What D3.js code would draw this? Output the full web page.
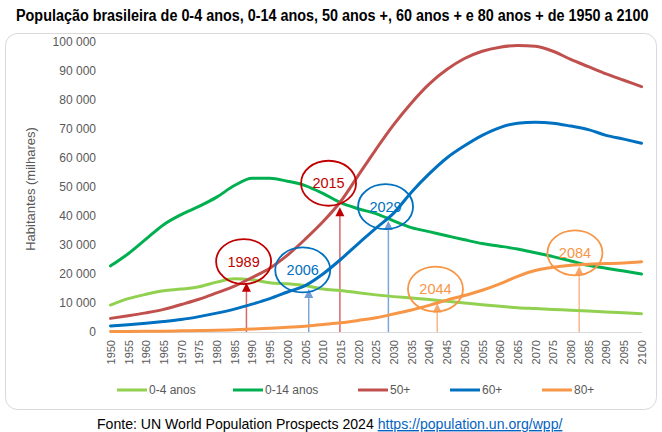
<!DOCTYPE html>
<html><head><meta charset="utf-8">
<script src="https://cdn.jsdelivr.net/npm/d3@7"></script>
<style>
html,body{margin:0;padding:0;background:#fff;}
svg{display:block;font-family:"Liberation Sans",Arial,sans-serif;}
</style></head>
<body>
<svg id="chart" width="662" height="432"></svg>
<script>
const years = [1950,1955,1960,1965,1970,1975,1980,1985,1990,1995,2000,2005,2010,2015,2020,2025,2030,2035,2040,2045,2050,2055,2060,2065,2070,2075,2080,2085,2090,2095,2100];
const age0_4  = [9300,11500,13000,14200,14800,15600,17200,18400,18000,17000,16600,16000,14800,14300,13500,12800,12200,11700,11200,10600,10000,9400,8900,8400,8100,7800,7500,7200,6900,6600,6300];
const age0_14 = [22800,27000,32000,37000,40500,43300,46500,50500,53000,53000,52000,50500,47800,44600,42500,40800,38300,36000,34600,33200,31800,30500,29600,28600,27300,26000,24500,23000,22000,21000,20000];
const age50p  = [4700,5600,6600,7800,9500,11300,13500,15800,18800,22000,26500,32000,38000,45000,54000,63000,71500,79000,85500,90500,94300,96800,98200,98800,98500,96800,94000,91500,89000,86800,84600];
const age60p  = [2100,2500,3000,3600,4300,5300,6500,7900,9600,11500,13800,16000,20000,25000,30500,35800,41000,48200,54500,60000,64200,67800,70500,72000,72300,72000,71000,69800,67800,66500,65100];
const age80p  = [150,200,250,300,400,500,600,800,1000,1300,1600,2000,2600,3200,4000,4900,6200,7600,9200,11000,12600,14400,16600,19200,21200,22300,23000,23400,23600,23800,24200];
const seriesNames = ["0-4 anos","0-14 anos","50+","60+","80+"];
const yTicks = [0,10000,20000,30000,40000,50000,60000,70000,80000,90000,100000];
// annotations: label year, ellipse centre (year, value), arrow x (year), arrow tip value
const annYears   = [1989, 2006, 2015, 2029, 2044, 2084];
const annCx      = [1987.6, 2004.3, 2011.6, 2027.7, 2041.8, 2081.2];
const annCy      = [24300, 21400, 51300, 43200, 14800, 27300];
const annArrowX  = [1988.4, 2006.0, 2014.8, 2028.5, 2042.3, 2082.4];
const annArrowTo = [17000, 14800, 43000, 38300, 9800, 22700];
const annGroup   = ["r","b","r","b","o","o"];

const colors = ["#92d050","#00b050","#c0504d","#0070c0","#f79646"];
const annStroke = {r:"#c00000", b:"#0070c0", o:"#f79646"};
const annArrow = {r:"#d9666a", b:"#7fa6d8", o:"#f8b68a"};
const annHead = {r:"#c00000", b:"#6f9bd6", o:"#f5a66d"};

const svg = d3.select("#chart");
const x = d3.scaleLinear().domain([1950,2100]).range([110.5,641.5]);
const y = d3.scaleLinear().domain([0,100000]).range([332,42]);

// frame
svg.append("rect").attr("x",5.5).attr("y",33.5).attr("width",651).attr("height",376)
  .attr("rx",12).attr("fill","#fff").attr("stroke","#d9d9d9").attr("stroke-width",1);

// title (scaled horizontally to the reference width)
const title = svg.append("text").attr("x",0).attr("y",0).attr("font-size",17).attr("font-weight","bold")
  .attr("fill","#000")
  .text("População brasileira de 0-4 anos, 0-14 anos, 50 anos +, 60 anos + e 80 anos + de 1950 a 2100");
const tLen = title.node().getComputedTextLength();
title.attr("transform",`translate(16,21) scale(${633/tLen},1)`);

// y axis
const fmt = d => d3.format(",")(d).replace(/,/g," ");
const ya = svg.append("g").attr("transform","translate(100,0)")
  .call(d3.axisLeft(y).tickValues(yTicks).tickFormat(fmt).tickSize(0).tickPadding(4));
ya.select(".domain").remove();
ya.selectAll("text").attr("font-size",12).attr("fill","#595959").attr("font-family","Liberation Sans, Arial, sans-serif");

svg.append("text").attr("transform","translate(35,189) rotate(-90)").attr("text-anchor","middle")
  .attr("font-size",13).attr("fill","#595959").text("Habitantes (milhares)");

// x axis
const xa = svg.append("g").attr("transform","translate(0,332)")
  .call(d3.axisBottom(x).tickValues(years).tickFormat(d3.format("d")).tickSize(0).tickSizeOuter(0));
xa.select(".domain").attr("stroke","#d9d9d9");
xa.selectAll("text").attr("transform","rotate(-90)").attr("text-anchor","end")
  .attr("x",-8).attr("y",0).attr("dy","0.35em")
  .attr("font-size",11).attr("fill","#595959").attr("font-family","Liberation Sans, Arial, sans-serif");

// arrows (drawn under lines)
annYears.forEach((yr,i)=>{
  const g = annGroup[i];
  const ax = x(annArrowX[i]), ty = y(annArrowTo[i]);
  svg.append("line").attr("x1",ax).attr("x2",ax).attr("y1",332).attr("y2",ty+7)
    .attr("stroke",annArrow[g]).attr("stroke-width",1.5);
  svg.append("path").attr("d",`M${ax},${ty} L${ax-4.5},${ty+9} L${ax+4.5},${ty+9} Z`)
    .attr("fill",annHead[g]);
});

// lines
const allSeries = [age0_4, age0_14, age50p, age60p, age80p];
const line = d3.line().x((d,i)=>x(years[i])).y(d=>y(d)).curve(d3.curveMonotoneX);
allSeries.forEach((s,i)=>{
  svg.append("path").datum(s).attr("d",line).attr("fill","none")
    .attr("stroke",colors[i]).attr("stroke-width",3).attr("stroke-linejoin","round").attr("stroke-linecap","round");
});

// ellipses
annYears.forEach((yr,i)=>{
  const g = annGroup[i];
  const cx = x(annCx[i]), cy = y(annCy[i]);
  svg.append("ellipse").attr("cx",cx).attr("cy",cy).attr("rx",27.5).attr("ry",22.5)
    .attr("fill","none").attr("stroke",annStroke[g]).attr("stroke-width",1.8);
  svg.append("text").attr("x",cx).attr("y",cy).attr("dy","0.36em").attr("text-anchor","middle")
    .attr("font-size",14.5).attr("fill",annStroke[g]).text(yr);
});

// legend
const legX = [117,233,358,450,542];
seriesNames.forEach((n,i)=>{
  svg.append("line").attr("x1",legX[i]).attr("x2",legX[i]+30).attr("y1",390).attr("y2",390)
    .attr("stroke",colors[i]).attr("stroke-width",3);
  svg.append("text").attr("x",legX[i]+32).attr("y",390).attr("dy","0.35em")
    .attr("font-size",12).attr("fill","#595959").text(n);
});

// footer
const ft = svg.append("text").attr("x",0).attr("y",0).attr("font-size",14);
ft.append("tspan").attr("fill","#000").text("Fonte: UN World Population Prospects 2024 ");
ft.append("tspan").attr("fill","#0563c1").attr("text-decoration","underline").text("https://population.un.org/wpp/");
const fLen = ft.node().getComputedTextLength();
ft.attr("transform",`translate(97,429) scale(${466/fLen},1)`);
</script>
</body></html>
